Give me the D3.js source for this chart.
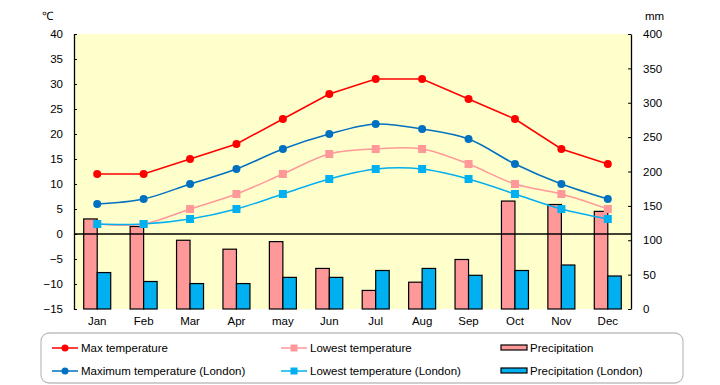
<!DOCTYPE html>
<html>
<head>
<meta charset="utf-8">
<script src="https://cdn.jsdelivr.net/npm/d3@7"></script>
<style>
  body { margin: 0; background: #fff; }
  svg text { font-family: "Liberation Sans", Arial, sans-serif; font-size: 11.5px; fill: #000; }
</style>
</head>
<body>
<div id="vis"></div>
<script>
var months = ['Jan', 'Feb', 'Mar', 'Apr', 'may', 'Jun', 'Jul', 'Aug', 'Sep', 'Oct', 'Nov', 'Dec'];

var maxTemp = [12, 12, 15, 18, 23, 28, 31, 31, 27, 23, 17, 14];
var lowTemp = [2, 2, 5, 8, 12, 16, 17, 17, 14, 10, 8, 5];
var maxTempLondon = [6, 7, 10, 13, 17, 20, 22, 21, 19, 14, 10, 7];
var lowTempLondon = [2, 2, 3, 5, 8, 11, 13, 13, 11, 8, 5, 3];
var precip = [131, 120, 100, 87, 98, 59, 27, 39, 72, 157, 152, 142];
var precipLondon = [53, 40, 37, 37, 46, 46, 56, 59, 49, 56, 64, 48];

var tempTicks = [-15, -10, -5, 0, 5, 10, 15, 20, 25, 30, 35, 40];
var mmTicks = [0, 50, 100, 150, 200, 250, 300, 350, 400];

var width = 720, height = 385;
var plot = { left: 74, right: 631, top: 34, bottom: 309 };

var svg = d3.select('#vis').append('svg')
  .attr('width', width)
  .attr('height', height);

var x = d3.scaleBand().domain(months).range([plot.left, plot.right]);
var yT = d3.scaleLinear().domain([-15, 40]).range([plot.bottom, plot.top]);
var yP = d3.scaleLinear().domain([0, 400]).range([plot.bottom, plot.top]);
var barW = 13.5;

// plot background
svg.append('rect')
  .attr('x', plot.left).attr('y', plot.top)
  .attr('width', plot.right - plot.left).attr('height', plot.bottom - plot.top)
  .attr('fill', '#ffffcc');

// precipitation bars
var barSeries = [
  { values: precip, color: '#ff9999', off: -barW },
  { values: precipLondon, color: '#00b0f0', off: 0 }
];
barSeries.forEach(function (s) {
  svg.append('g').selectAll('rect')
    .data(s.values)
    .enter().append('rect')
    .attr('x', function (d, i) { return x(months[i]) + x.bandwidth() / 2 + s.off; })
    .attr('y', function (d) { return yP(d); })
    .attr('width', barW)
    .attr('height', function (d) { return plot.bottom - yP(d); })
    .attr('fill', s.color)
    .attr('stroke', '#000')
    .attr('stroke-width', 1.2);
});

// zero line
svg.append('line')
  .attr('x1', plot.left).attr('x2', plot.right)
  .attr('y1', yT(0)).attr('y2', yT(0))
  .attr('stroke', '#000').attr('stroke-width', 1.3);

// temperature lines
var lineSeries = [
  { values: maxTemp, color: '#ff0000', marker: 'circle', curve: d3.curveLinear },
  { values: lowTemp, color: '#ff9999', marker: 'square', curve: d3.curveCatmullRom },
  { values: maxTempLondon, color: '#0070c0', marker: 'circle', curve: d3.curveCatmullRom },
  { values: lowTempLondon, color: '#00b0f0', marker: 'square', curve: d3.curveCatmullRom }
];

function cx(i) { return x(months[i]) + x.bandwidth() / 2; }

lineSeries.forEach(function (s) {
  var line = d3.line()
    .x(function (d, i) { return cx(i); })
    .y(function (d) { return yT(d); })
    .curve(s.curve);
  svg.append('path')
    .datum(s.values)
    .attr('d', line)
    .attr('fill', 'none')
    .attr('stroke', s.color)
    .attr('stroke-width', 1.5);
});

lineSeries.forEach(function (s) {
  var g = svg.append('g');
  if (s.marker === 'circle') {
    g.selectAll('circle').data(s.values).enter().append('circle')
      .attr('cx', function (d, i) { return cx(i); })
      .attr('cy', function (d) { return yT(d); })
      .attr('r', 4)
      .attr('fill', s.color);
  } else {
    g.selectAll('rect').data(s.values).enter().append('rect')
      .attr('x', function (d, i) { return cx(i) - 4; })
      .attr('y', function (d) { return yT(d) - 4; })
      .attr('width', 8).attr('height', 8)
      .attr('fill', s.color);
  }
});

// axes
var leftAxis = svg.append('g')
  .attr('transform', 'translate(' + plot.left + ',0)')
  .call(d3.axisLeft(yT).tickValues(tempTicks).tickSize(-3).tickSizeOuter(0).tickPadding(11)
    .tickFormat(function (d) { return d < 0 ? '\u2212' + Math.abs(d) : d; }));
var rightAxis = svg.append('g')
  .attr('transform', 'translate(' + plot.right + ',0)')
  .call(d3.axisRight(yP).tickValues(mmTicks).tickSize(-3).tickSizeOuter(0).tickPadding(12));
var bottomAxis = svg.append('g')
  .attr('transform', 'translate(0,' + plot.bottom + ')')
  .call(d3.axisBottom(x).tickSize(0).tickPadding(8));
bottomAxis.select('.domain').remove();

[leftAxis, rightAxis].forEach(function (a) {
  a.select('.domain').attr('stroke', '#000').attr('stroke-width', 1.3);
  a.selectAll('.tick line').attr('stroke', '#000');
});
svg.selectAll('.tick text').style('font-family', '"Liberation Sans", Arial, sans-serif').style('font-size', '11.5px');

// unit labels
svg.append('text').attr('x', 42).attr('y', 20).text('\u2103');
svg.append('text').attr('x', 645).attr('y', 20).text('mm');

// legend
var legend = svg.append('g');
legend.append('rect')
  .attr('x', 41).attr('y', 333).attr('width', 642).attr('height', 50)
  .attr('rx', 8)
  .attr('fill', '#fff')
  .attr('stroke', '#c0c0c0')
  .attr('stroke-width', 1.3);

var legendItems = [
  { label: 'Max temperature', type: 'circle', color: '#ff0000', x: 52, y: 348 },
  { label: 'Lowest temperature', type: 'square', color: '#ff9999', x: 281, y: 348 },
  { label: 'Precipitation', type: 'bar', color: '#ff9999', x: 501, y: 348 },
  { label: 'Maximum temperature (London)', type: 'circle', color: '#0070c0', x: 52, y: 371 },
  { label: 'Lowest temperature (London)', type: 'square', color: '#00b0f0', x: 281, y: 371 },
  { label: 'Precipitation (London)', type: 'bar', color: '#00b0f0', x: 501, y: 371 }
];

legendItems.forEach(function (d) {
  var g = legend.append('g');
  if (d.type === 'bar') {
    g.append('rect')
      .attr('x', d.x).attr('y', d.y - 3).attr('width', 26).attr('height', 5)
      .attr('fill', d.color).attr('stroke', '#000').attr('stroke-width', 1.2);
  } else {
    g.append('line')
      .attr('x1', d.x).attr('x2', d.x + 26)
      .attr('y1', d.y).attr('y2', d.y)
      .attr('stroke', d.color).attr('stroke-width', 1.5);
    if (d.type === 'circle') {
      g.append('circle').attr('cx', d.x + 13).attr('cy', d.y).attr('r', 3.5).attr('fill', d.color);
    } else {
      g.append('rect').attr('x', d.x + 9.5).attr('y', d.y - 3.5).attr('width', 7).attr('height', 7).attr('fill', d.color);
    }
  }
  g.append('text')
    .attr('x', d.x + 29).attr('y', d.y + 4)
    .text(d.label);
});
</script>
</body>
</html>
